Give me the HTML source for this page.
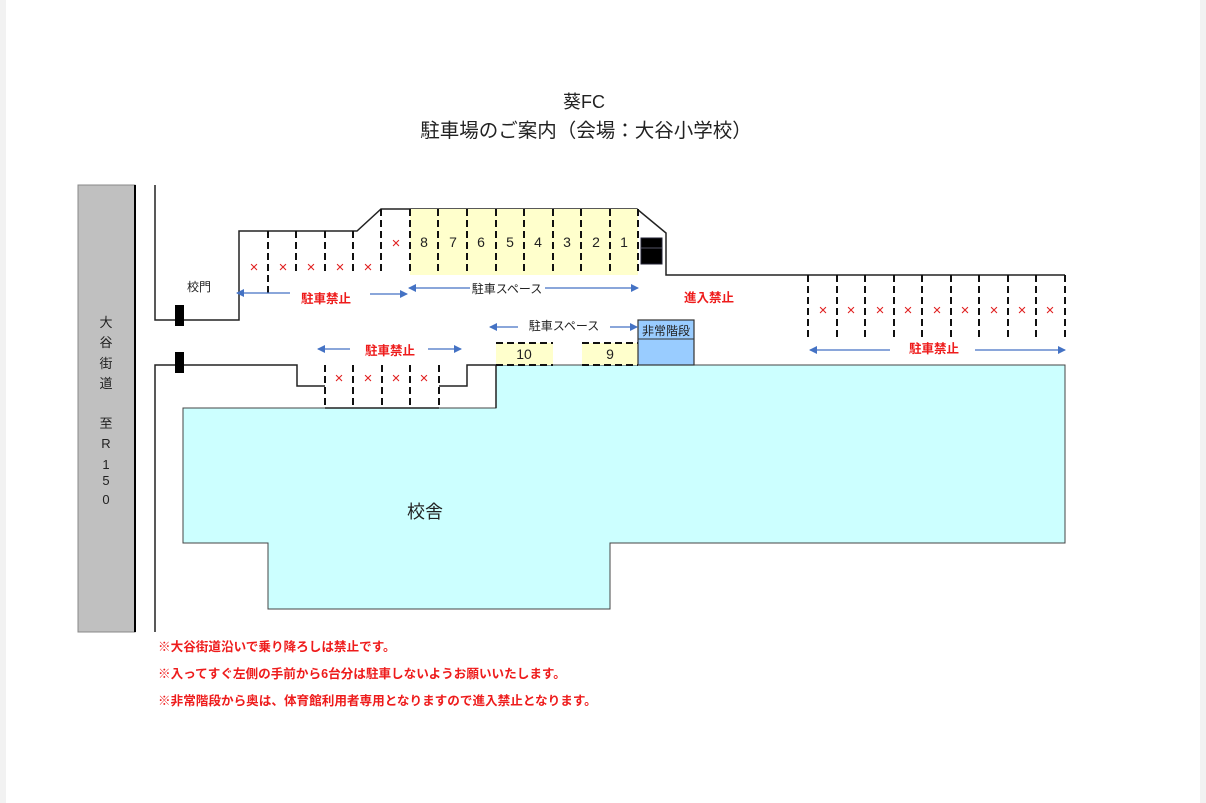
<!DOCTYPE html>
<html><head><meta charset="utf-8"><style>
html,body{margin:0;padding:0;background:#fff;}
svg{display:block;}
text{font-family:"Liberation Sans","Noto Sans CJK JP",sans-serif;}
</style></head><body>
<svg width="1206" height="803" viewBox="0 0 1206 803" xmlns="http://www.w3.org/2000/svg">
<rect x="0" y="0" width="1206" height="803" fill="#fff"/>
<rect x="0" y="0" width="6" height="803" fill="#f2f2f2"/>
<rect x="1200" y="0" width="6" height="803" fill="#f2f2f2"/>

<text x="584" y="108" font-size="18" text-anchor="middle" fill="#222">葵FC</text>
<text x="586" y="137" font-size="19.5" text-anchor="middle" fill="#222">駐車場のご案内（会場：大谷小学校）</text>

<rect x="78" y="185" width="57" height="447" fill="#c0c0c0" stroke="#888" stroke-width="1"/>
<line x1="135" y1="185" x2="135" y2="632" stroke="#000" stroke-width="2"/>
<g font-size="13" fill="#222" text-anchor="middle">
<text x="106" y="327">大</text><text x="106" y="347">谷</text><text x="106" y="368">街</text><text x="106" y="388">道</text>
<text x="106" y="428">至</text><text x="106" y="448">R</text><text x="106" y="469">1</text><text x="106" y="485">5</text><text x="106" y="504">0</text>
</g>

<polygon points="183,408 496,408 496,365 1065,365 1065,543 610,543 610,609 268,609 268,543 183,543" fill="#ccffff" stroke="#444" stroke-width="1"/>
<text x="425" y="518" font-size="18" text-anchor="middle" fill="#222">校舎</text>

<g fill="none" stroke="#222" stroke-width="1.5">
<polyline points="155,185 155,320 239,320 239,231 357,231 381,209 637,209 666,233 666,275 1065,275"/>
<polyline points="155,632 155,365 297,365 297,386 325,386"/>
<line x1="325" y1="408" x2="439" y2="408"/>
<polyline points="439,386 467,386 467,365 496,365 496,408"/>
</g>

<rect x="410" y="209" width="228" height="66" fill="#ffffcc"/>
<rect x="496" y="343" width="57" height="22" fill="#ffffcc"/>
<rect x="582" y="343" width="56" height="22" fill="#ffffcc"/>
<g stroke="#111" stroke-width="2" stroke-dasharray="7,4" fill="none">
<line x1="496" y1="343" x2="553" y2="343"/><line x1="496" y1="365" x2="553" y2="365"/>
<line x1="582" y1="343" x2="638" y2="343"/><line x1="582" y1="365" x2="638" y2="365"/>
<line x1="268" y1="231" x2="268" y2="296"/>
<line x1="296" y1="231" x2="296" y2="275"/>
<line x1="325" y1="231" x2="325" y2="275"/>
<line x1="353" y1="231" x2="353" y2="275"/>
<line x1="381" y1="209" x2="381" y2="275"/>
<line x1="410" y1="209" x2="410" y2="275"/>
<line x1="438" y1="209" x2="438" y2="275"/>
<line x1="467" y1="209" x2="467" y2="275"/>
<line x1="496" y1="209" x2="496" y2="275"/>
<line x1="524" y1="209" x2="524" y2="275"/>
<line x1="553" y1="209" x2="553" y2="275"/>
<line x1="581" y1="209" x2="581" y2="275"/>
<line x1="610" y1="209" x2="610" y2="275"/>
<line x1="638" y1="209" x2="638" y2="275"/>
<line x1="325" y1="365" x2="325" y2="408"/>
<line x1="353" y1="365" x2="353" y2="408"/>
<line x1="382" y1="365" x2="382" y2="408"/>
<line x1="410" y1="365" x2="410" y2="408"/>
<line x1="439" y1="365" x2="439" y2="408"/>
<line x1="808" y1="275" x2="808" y2="340"/>
<line x1="837" y1="275" x2="837" y2="340"/>
<line x1="865" y1="275" x2="865" y2="340"/>
<line x1="894" y1="275" x2="894" y2="340"/>
<line x1="922" y1="275" x2="922" y2="340"/>
<line x1="951" y1="275" x2="951" y2="340"/>
<line x1="979" y1="275" x2="979" y2="340"/>
<line x1="1008" y1="275" x2="1008" y2="340"/>
<line x1="1036" y1="275" x2="1036" y2="340"/>
<line x1="1065" y1="275" x2="1065" y2="340"/>
</g>

<g font-size="14" fill="#222" text-anchor="middle">
<text x="424" y="247">8</text><text x="453" y="247">7</text><text x="481" y="247">6</text><text x="510" y="247">5</text>
<text x="538" y="247">4</text><text x="567" y="247">3</text><text x="596" y="247">2</text><text x="624" y="247">1</text>
<text x="524" y="359">10</text><text x="610" y="359">9</text>
</g>

<g font-size="15" fill="#e02020" text-anchor="middle">
<text x="254" y="272">×</text><text x="283" y="272">×</text><text x="311" y="272">×</text><text x="340" y="272">×</text><text x="368" y="272">×</text>
<text x="396" y="248">×</text>
<text x="339" y="383">×</text><text x="368" y="383">×</text><text x="396" y="383">×</text><text x="424" y="383">×</text>
<text x="823" y="315">×</text><text x="851" y="315">×</text><text x="880" y="315">×</text><text x="908" y="315">×</text><text x="937" y="315">×</text>
<text x="965" y="315">×</text><text x="994" y="315">×</text><text x="1022" y="315">×</text><text x="1050" y="315">×</text>
</g>

<rect x="638" y="320" width="56" height="45" fill="#99ccff" stroke="#333" stroke-width="1.2"/>
<line x1="638" y1="339" x2="694" y2="339" stroke="#333" stroke-width="1"/>
<text x="666" y="335" font-size="12" text-anchor="middle" fill="#222">非常階段</text>

<rect x="641" y="238" width="21" height="26" fill="#000" stroke="#223" stroke-width="1"/>
<line x1="641" y1="248" x2="662" y2="248" stroke="#556" stroke-width="1"/>
<rect x="175" y="305" width="9" height="21" fill="#000"/>
<rect x="175" y="352" width="9" height="21" fill="#000"/>

<defs><marker id="a" markerWidth="8" markerHeight="8" refX="7" refY="4" orient="auto" markerUnits="userSpaceOnUse"><path d="M0,0 L8,4 L0,8 z" fill="#4472c4"/></marker></defs>
<g stroke="#4472c4" stroke-width="1.3" marker-end="url(#a)">
<line x1="290" y1="293" x2="237" y2="293"/>
<line x1="370" y1="294" x2="407" y2="294"/>
<line x1="470" y1="288" x2="409" y2="288"/>
<line x1="545" y1="288" x2="638" y2="288"/>
<line x1="518" y1="327" x2="490" y2="327"/>
<line x1="610" y1="327" x2="637" y2="327"/>
<line x1="350" y1="349" x2="318" y2="349"/>
<line x1="428" y1="349" x2="461" y2="349"/>
<line x1="890" y1="350" x2="810" y2="350"/>
<line x1="975" y1="350" x2="1065" y2="350"/>
</g>

<g font-size="12.5" fill="#ee1c1c" font-weight="bold" text-anchor="middle">
<text x="326" y="303">駐車禁止</text>
<text x="709" y="302">進入禁止</text>
<text x="390" y="355">駐車禁止</text>
<text x="934" y="353">駐車禁止</text>
</g>
<g font-size="12" fill="#222" text-anchor="middle">
<text x="507" y="293">駐車スペース</text>
<text x="564" y="330">駐車スペース</text>
<text x="199" y="291">校門</text>
</g>

<g font-size="12.6" fill="#ee1c1c" font-weight="bold">
<text x="158" y="651">※大谷街道沿いで乗り降ろしは禁止です。</text>
<text x="158" y="678">※入ってすぐ左側の手前から6台分は駐車しないようお願いいたします。</text>
<text x="158" y="705">※非常階段から奥は、体育館利用者専用となりますので進入禁止となります。</text>
</g>
</svg>
</body></html>
